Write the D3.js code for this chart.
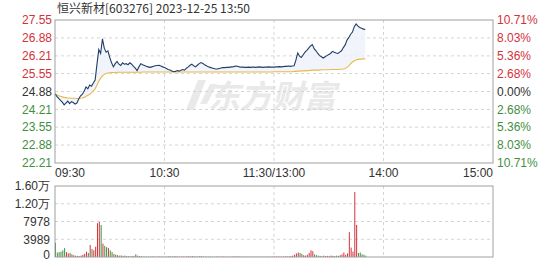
<!DOCTYPE html>
<html>
<head>
<meta charset="utf-8">
<script src="https://cdn.jsdelivr.net/npm/d3@7"></script>
<style>
  body { margin: 0; background: #fff; }
  text { font-family: "Liberation Sans", Arial, sans-serif; }
</style>
</head>
<body>
<div id="vizContainer"></div>
<script>
let w = 549;
let h = 262;

let title = "恒兴新材[603276] 2023-12-25 13:50";
let preClose = 24.88;

let priceTicks = [27.55, 26.88, 26.21, 25.55, 24.88, 24.21, 23.55, 22.88, 22.21];
let pctTicks = ["10.71%", "8.03%", "5.36%", "2.68%", "0.00%", "2.68%", "5.36%", "8.03%", "10.71%"];
let timeTicks = [0, 60, 120, 180, 240];
let timeLabels = ["09:30", "10:30", "11:30/13:00", "14:00", "15:00"];
let volTicks = [0, 3989, 7978, 11967, 15956];
let volLabels = ["0", "3989", "7978", "1.20万", "1.60万"];

// minute prices 09:30 .. 13:50
let prices = [
  24.79, 24.70, 24.62, 24.55, 24.48, 24.38, 24.45, 24.52, 24.43, 24.50,
  24.47, 24.41, 24.45, 24.60, 24.72, 24.78, 24.90, 25.05, 24.98, 25.12,
  25.08, 25.20, 25.31, 25.90, 26.45, 26.30, 26.85, 26.50, 26.35, 26.40,
  26.15, 25.95, 25.80, 25.92, 26.00, 25.90, 25.85, 25.95, 25.90, 25.92,
  25.88, 25.95, 25.90, 25.82, 25.75, 25.66, 25.80, 25.92, 25.88, 25.85,
  25.82, 25.80, 25.78, 25.80, 25.82, 25.84, 25.85, 25.86, 25.83, 25.80,
  25.78, 25.74, 25.70, 25.68, 25.65, 25.62, 25.63, 25.66, 25.64, 25.67,
  25.70, 25.68, 25.75, 25.80, 25.86, 25.90, 25.84, 25.80, 25.86, 25.92,
  25.96, 25.93, 25.88, 25.84, 25.80, 25.78, 25.76, 25.74, 25.72, 25.72,
  25.74, 25.76, 25.77, 25.77, 25.78, 25.78, 25.79, 25.80, 25.81, 25.83,
  25.82, 25.80, 25.79, 25.79, 25.78, 25.78, 25.79, 25.78, 25.79, 25.79,
  25.78, 25.79, 25.80, 25.79, 25.78, 25.79, 25.79, 25.80, 25.79, 25.79,
  25.79, 25.80, 25.80, 25.81, 25.80, 25.81, 25.82, 25.82, 25.83, 25.82,
  25.83, 25.84, 26.05, 26.32, 26.20, 26.15, 26.25, 26.35, 26.42, 26.50,
  26.58, 26.63, 26.48, 26.40, 26.30, 26.22, 26.18, 26.13, 26.18, 26.22,
  26.26, 26.30, 26.38, 26.35, 26.32, 26.30, 26.35, 26.40, 26.52, 26.62,
  26.80, 26.90, 27.02, 27.10, 27.30, 27.40, 27.32, 27.27, 27.24, 27.21,
  27.20
];

let avgPrices = [
  24.79, 24.76, 24.72, 24.70, 24.68, 24.66, 24.65, 24.64, 24.64, 24.63,
  24.63, 24.63, 24.62, 24.62, 24.63, 24.64, 24.66, 24.70, 24.74, 24.78,
  24.83, 24.90, 24.98, 25.12, 25.26, 25.38, 25.46, 25.52, 25.55, 25.57,
  25.58, 25.59, 25.59, 25.59, 25.60, 25.60, 25.60, 25.60, 25.60, 25.60,
  25.60, 25.60, 25.60, 25.60, 25.60, 25.60, 25.60, 25.60, 25.61, 25.61,
  25.61, 25.61, 25.61, 25.61, 25.61, 25.61, 25.61, 25.61, 25.61, 25.61,
  25.61, 25.61, 25.61, 25.61, 25.61, 25.61, 25.61, 25.61, 25.61, 25.61,
  25.61, 25.61, 25.61, 25.61, 25.61, 25.61, 25.61, 25.61, 25.61, 25.61,
  25.61, 25.61, 25.61, 25.61, 25.61, 25.61, 25.61, 25.61, 25.61, 25.61,
  25.61, 25.61, 25.61, 25.61, 25.61, 25.61, 25.61, 25.61, 25.61, 25.61,
  25.61, 25.61, 25.61, 25.61, 25.61, 25.61, 25.61, 25.61, 25.61, 25.61,
  25.61, 25.61, 25.61, 25.61, 25.61, 25.61, 25.61, 25.61, 25.61, 25.61,
  25.62, 25.62, 25.62, 25.62, 25.62, 25.62, 25.62, 25.62, 25.62, 25.62,
  25.62, 25.63, 25.63, 25.64, 25.64, 25.65, 25.65, 25.65, 25.66, 25.66,
  25.67, 25.68, 25.68, 25.68, 25.68, 25.68, 25.69, 25.69, 25.69, 25.69,
  25.69, 25.70, 25.70, 25.70, 25.70, 25.70, 25.71, 25.71, 25.72, 25.74,
  25.78, 25.84, 25.92, 25.98, 26.03, 26.06, 26.08, 26.09, 26.09, 26.10,
  26.10
];

let volumes = [
  3200, 1000, 1100, 1200, 1500, 2000, 1100, 800, 900, 600,
  400, 300, 250, 200, 300, 500, 700, 1200, 900, 2700,
  1800, 1500, 2300, 7600, 7900, 7200, 3000, 2500, 2200, 2000,
  1500, 1100, 700, 500, 400, 300, 350, 250, 300, 200,
  180, 150, 200, 250, 600, 300, 200, 150, 120, 100,
  120, 100, 90, 110, 100, 80, 90, 100, 120, 90,
  100, 120, 150, 130, 110, 180, 140, 100, 90, 110,
  120, 100, 140, 160, 130, 200, 150, 110, 130, 160,
  180, 120, 100, 90, 110, 100, 80, 90, 100, 120,
  90, 80, 100, 90, 70, 80, 90, 100, 110, 130,
  150, 100, 90, 80, 70, 90, 80, 70, 80, 90,
  70, 80, 90, 70, 60, 80, 70, 90, 80, 100,
  120, 100, 90, 110, 100, 120, 130, 150, 140, 200,
  300, 500, 800, 1000, 900, 700, 400, 300, 500, 900,
  1500, 1300, 600, 400, 300, 250, 200, 300, 200, 250,
  200, 300, 250, 200, 300, 250, 400, 600, 1000, 500,
  800, 5600, 2100, 1200, 14600, 7200, 900, 1000, 600, 500,
  300
];

let red = "#d3323a";
let green = "#3f8f3f";
let dark = "#333";

let viz = d3.select("#vizContainer").append("svg")
  .attr("width", w)
  .attr("height", h)
  .style("display", "block")
  .style("background-color", "white");

let xScale = d3.scaleLinear().domain([0, 240]).range([55, 493]);
let yScale = d3.scaleLinear().domain([22.21, 27.55]).range([163, 20]);
let vScale = d3.scaleLinear().domain([0, 15956]).range([257, 186]);

// watermark
let mark = viz.append("g").attr("fill", "#e9e9e9");
mark.append("path")
  .attr("d", "M186,110 L198,80 L206,80 L194,110 Z M200,104 L210,84 L217,84 L207,104 Z");
mark.append("text")
  .attr("x", 272).attr("y", 108)
  .attr("text-anchor", "middle")
  .style("font-family", "'Noto Sans CJK SC', sans-serif")
  .style("font-size", "32px")
  .style("font-weight", "bold")
  .style("font-style", "italic")
  .text("东方财富");

// title
viz.append("text")
  .attr("x", 57).attr("y", 13)
  .style("font-family", "'Noto Sans CJK SC', sans-serif")
  .style("font-size", "12px")
  .attr("fill", dark)
  .text(title);

function grid(g, yTop, yBottom, yVals, ys) {
  g.selectAll(".hgrid").data(yVals).enter().append("line")
    .attr("class", "hgrid")
    .attr("x1", 55).attr("x2", 493)
    .attr("y1", d => ys(d)).attr("y2", d => ys(d))
    .attr("stroke", "#d4d4d4")
    .attr("stroke-dasharray", "3,3");
  g.selectAll(".vgrid").data(timeTicks.slice(1, 4)).enter().append("line")
    .attr("class", "vgrid")
    .attr("x1", d => xScale(d)).attr("x2", d => xScale(d))
    .attr("y1", yTop).attr("y2", yBottom)
    .attr("stroke", "#d4d4d4")
    .attr("stroke-dasharray", "3,3");
}

let priceGroup = viz.append("g");
grid(priceGroup, 20, 163, priceTicks.slice(1, 8), yScale);

let band = d3.area()
  .x((d, i) => xScale(i))
  .y0((d, i) => yScale(avgPrices[i]))
  .y1(d => yScale(d));
priceGroup.append("path")
  .datum(prices)
  .attr("d", band)
  .attr("fill", "#edf3fa")
  .attr("opacity", 0.8);

priceGroup.append("path")
  .datum(avgPrices)
  .attr("d", d3.line().x((d, i) => xScale(i)).y(d => yScale(d)))
  .attr("fill", "none")
  .attr("stroke", "#e9b949")
  .attr("stroke-width", 1.1);

priceGroup.append("path")
  .datum(prices)
  .attr("d", d3.line().x((d, i) => xScale(i)).y(d => yScale(d)))
  .attr("fill", "none")
  .attr("stroke", "#223d68")
  .attr("stroke-width", 1.1);

priceGroup.append("rect")
  .attr("x", 55).attr("y", 20)
  .attr("width", 438).attr("height", 143)
  .attr("fill", "none")
  .attr("stroke", "#a0a0a0");

function tickColor(i) {
  if (i < 4) return red;
  if (i === 4) return dark;
  return green;
}

priceGroup.selectAll(".pl").data(priceTicks).enter().append("text")
  .attr("x", 52)
  .attr("y", d => yScale(d))
  .attr("dy", "0.36em")
  .attr("text-anchor", "end")
  .style("font-size", "12px")
  .attr("fill", (d, i) => tickColor(i))
  .text(d => d.toFixed(2));

priceGroup.selectAll(".pr").data(pctTicks).enter().append("text")
  .attr("x", 497)
  .attr("y", (d, i) => yScale(priceTicks[i]))
  .attr("dy", "0.36em")
  .style("font-size", "12px")
  .attr("fill", (d, i) => tickColor(i))
  .text(d => d);

viz.selectAll(".tl").data(timeTicks).enter().append("text")
  .attr("x", d => xScale(d))
  .attr("y", 177)
  .attr("text-anchor", (d, i) => i === 0 ? "start" : (i === timeTicks.length - 1 ? "end" : "middle"))
  .style("font-size", "12px")
  .attr("fill", dark)
  .text((d, i) => timeLabels[i]);

// volume
let volGroup = viz.append("g");
grid(volGroup, 186, 257, volTicks.slice(1, 4), vScale);

volGroup.selectAll(".vbar").data(volumes).enter().append("line")
  .attr("class", "vbar")
  .attr("x1", (d, i) => xScale(i) + 0.5).attr("x2", (d, i) => xScale(i) + 0.5)
  .attr("y1", vScale(0))
  .attr("y2", d => vScale(d))
  .attr("stroke", (d, i) => {
    let prev = i === 0 ? preClose : prices[i - 1];
    return prices[i] >= prev ? red : green;
  })
  .attr("stroke-width", 1);

volGroup.append("rect")
  .attr("x", 55).attr("y", 186)
  .attr("width", 438).attr("height", 71)
  .attr("fill", "none")
  .attr("stroke", "#a0a0a0");

volGroup.selectAll(".vl").data(volTicks).enter().append("text")
  .attr("x", 50)
  .attr("y", d => Math.min(vScale(d), 255))
  .attr("dy", "0.36em")
  .attr("text-anchor", "end")
  .style("font-size", "12px")
  .attr("fill", dark)
  .text((d, i) => volLabels[i]);
</script>
</body>
</html>
